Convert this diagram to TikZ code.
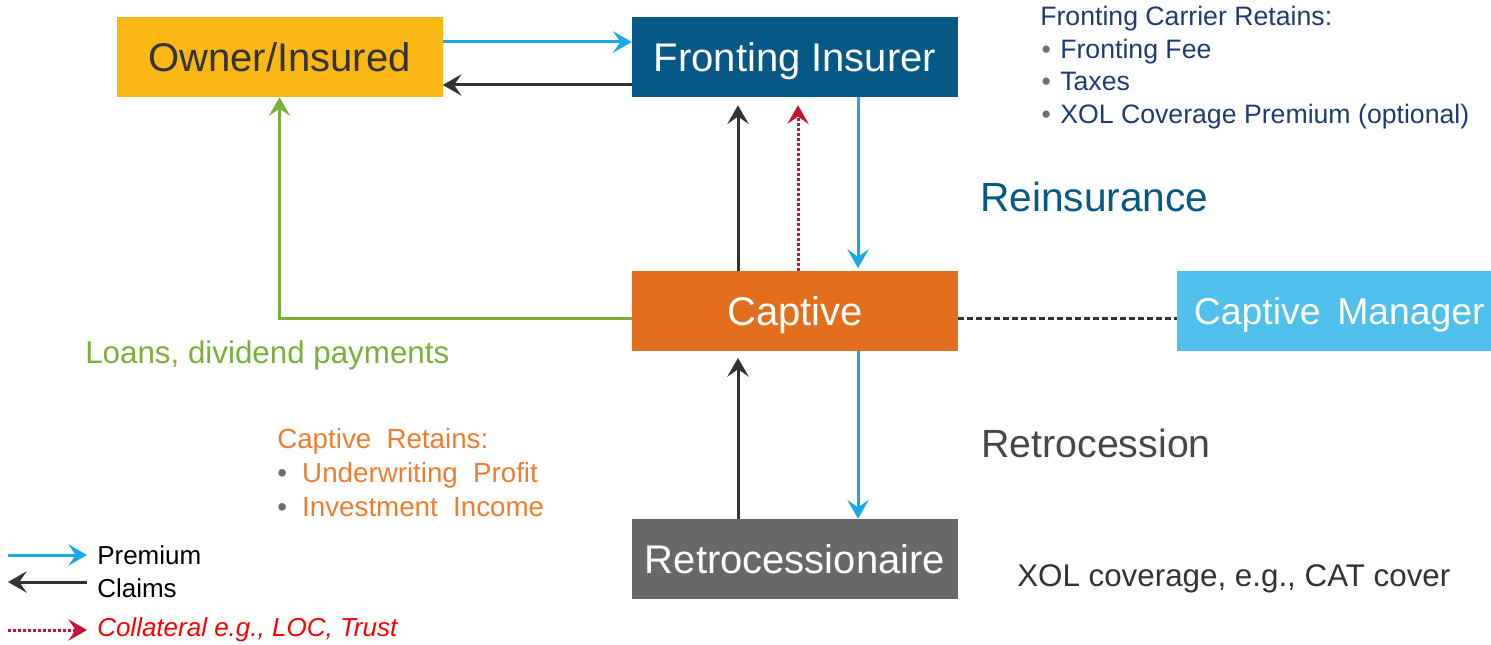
\documentclass[tikz,border=0pt]{standalone}
\usepackage{fontspec}
\setmainfont{Liberation Sans}
\usepackage{xcolor}
\usepackage{tikz}
\usetikzlibrary{arrows.meta}

\definecolor{ownerc}{RGB}{251,183,20}
\definecolor{frontc}{RGB}{6,88,134}
\definecolor{captc}{RGB}{227,111,30}
\definecolor{mgrc}{RGB}{79,192,236}
\definecolor{retroc}{RGB}{104,104,107}
\definecolor{premc}{RGB}{27,168,230}
\definecolor{claimc}{RGB}{51,51,51}
\definecolor{loanc}{RGB}{122,175,60}
\definecolor{collc}{RGB}{200,20,50}
\definecolor{retainc}{RGB}{237,125,49}
\definecolor{navyc}{RGB}{31,59,115}
\definecolor{bulc}{RGB}{110,110,110}

\newcommand{\gbul}{\hspace*{1pt}{\color{bulc}\textbullet}\hspace{7pt}}
\newcommand{\widesp}[1]{\spaceskip=#1\relax}

\begin{document}
\begin{tikzpicture}[x=0.75pt,y=0.75pt,yscale=-1,xscale=1,
        box/.style={minimum width=244.5pt,minimum height=60pt,inner sep=0pt,text=white,text height=21.5pt,text depth=0pt,font=\fontsize{30}{36}\selectfont},
        tip/.style={-{Stealth[length=14pt,width=16pt,inset=5.5pt]}},
        prem/.style={tip,draw=premc,line width=2.25pt},
        claim/.style={tip,draw=claimc,line width=2.25pt},
        coll/.style={tip,draw=collc,line width=2.25pt,dash pattern=on 2.25pt off 1.5pt},
        loan/.style={tip,draw=loanc,line width=2.25pt},
        note/.style={anchor=west,inner sep=0pt}]
        \useasboundingbox (0,0) rectangle (1491,645);

        % boxes
        \node [box,fill=ownerc,text=claimc] (owner) at (279.5,57) {Owner/Insured};
        \node [box,fill=frontc] (front) at (795,57) {Fronting Insurer};
        \node [box,fill=captc] (capt) at (795,311) {Captive};
        \node [box,fill=mgrc,minimum width=235.5pt,text height=20pt,font=\fontsize{28}{32}\selectfont\widesp{0.45em}] (mgr) at (1334,311) {\hspace*{8pt}Captive Manager};
        \node [box,fill=retroc] (retro) at (795,559) {Retrocessionaire};

        % flows (yshift runs downward here)
        \draw [prem] ([yshift=-11.25pt]owner.east) -- ([yshift=-11.25pt]front.west);
        \draw [claim] ([yshift=21pt]front.west) -- ([yshift=21pt]owner.east);
        \draw [loan] ([yshift=5.25pt]capt.west) -| (owner.south);
        \draw [claim,shorten >=6pt] ([xshift=-42.75pt]capt.north) -- ([xshift=-42.75pt]front.south);
        \draw [coll,shorten >=6pt] ([xshift=2.25pt]capt.north) -- ([xshift=2.25pt]front.south);
        \draw [prem,shorten >=2pt] ([xshift=47.25pt]front.south) -- ([xshift=47.25pt]capt.north);
        \draw [claimc,line width=2.25pt,dash pattern=on 4.5pt off 2.25pt] ([yshift=5.25pt]capt.east) -- ([yshift=5.25pt]mgr.west);
        \draw [claim,shorten >=5pt] ([xshift=-42.75pt]retro.north) -- ([xshift=-42.75pt]capt.south);
        \draw [prem] ([xshift=47.25pt]capt.south) -- ([xshift=47.25pt]retro.north);

        % notes
        \node [anchor=north west,inner sep=0pt,align=left,text=navyc,font=\fontsize{20}{24.4}\selectfont] (fcr) at (1040,6)
            {Fronting Carrier Retains:\\\gbul Fronting Fee\\\gbul Taxes\\\gbul XOL Coverage Premium (optional)};
        \node [note,text=frontc,font=\fontsize{30.5}{36}\selectfont] (reins) at (980,197) {Reinsurance};
        \node [note,text=claimc!90,font=\fontsize{29.5}{34}\selectfont] (retroc) at (981,443) {Retrocession};
        \node [note,text=claimc,font=\fontsize{23.5}{28}\selectfont] (xol) at (1017,579) {XOL coverage, e.g., CAT cover};
        \node [note,text=loanc,font=\fontsize{23.5}{28}\selectfont] (loans) at (85,355) {Loans, dividend payments};
        \node [anchor=north west,inner sep=0pt,align=left,text=retainc,font=\fontsize{20.8}{25.5}\selectfont\widesp{0.55em}] (cr) at (277,428)
            {Captive Retains:\\{\color{bulc}\textbullet}\ Underwriting Profit\\{\color{bulc}\textbullet}\ Investment Income};

        % legend
        \node [note,font=\fontsize{19.5}{23}\selectfont] (lprem) at (97,555) {Premium};
        \node [note,font=\fontsize{19.5}{23}\selectfont] (lclaim) at (97,588) {Claims};
        \node [note,text=red,font=\fontsize{19.5}{23}\itshape\selectfont] (lcoll) at (97,630) {Collateral e.g., LOC, Trust};
        \coordinate (pa) at (8,555);
        \coordinate (ca) at (8,582);
        \coordinate (ka) at (8,630);
        \draw [prem] (pa) -- ([xshift=-7.5pt]lprem.west);
        \draw [claim] ([xshift=-7.5pt,yshift=-4.5pt]lclaim.west) -- (ca);
        \draw [coll] (ka) -- ([xshift=-7.5pt]lcoll.west);
\end{tikzpicture}
\end{document}
